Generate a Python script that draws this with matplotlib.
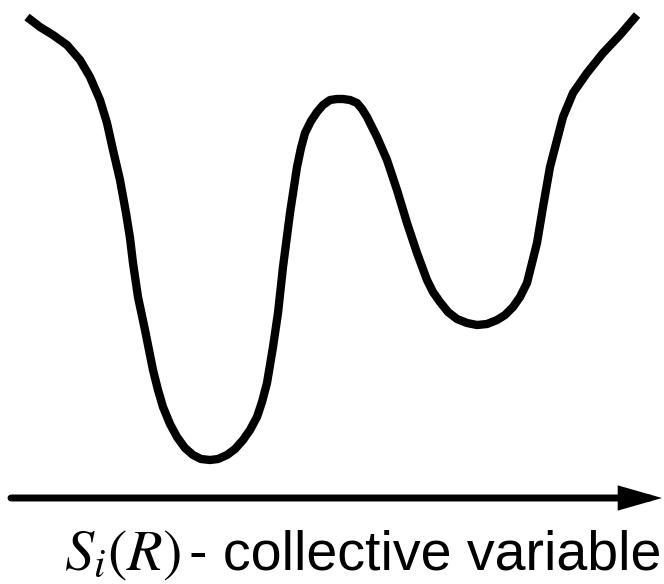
import matplotlib
matplotlib.use("Agg")
import matplotlib.pyplot as plt

plt.rcParams["mathtext.fontset"] = "stix"

# free-energy curve (pixel coords, y down)
curve_x = [27, 40, 53, 67, 80, 90, 100, 107, 113, 120, 126, 130, 133, 138, 145,
           153, 158, 163, 170, 177, 185, 193, 201, 210, 218, 227, 235, 243, 250,
           257, 262, 267, 273, 278, 283, 290, 297, 301, 305, 311, 317, 323, 330,
           337, 343, 350, 357, 362, 367, 377, 387, 397, 407, 417, 427, 433, 440,
           448, 457, 467, 477, 487, 497, 505, 513, 520, 527, 537, 543, 550, 557,
           563, 573, 587, 603, 620, 637]
curve_y = [17, 27, 35, 45, 60, 77, 100, 123, 150, 180, 213, 238, 263, 297, 330,
           370, 390, 407, 424, 437, 448, 455, 459, 460, 459, 455, 449, 440, 430,
           417, 402, 383, 347, 313, 267, 213, 167, 148, 133, 121, 112, 105, 100,
           99, 99, 100, 103, 109, 117, 137, 160, 190, 223, 253, 280, 292, 302,
           312, 319, 323, 325, 324, 320, 315, 307, 297, 283, 243, 207, 167, 140,
           117, 93, 73, 53, 35, 15]

axis_start, axis_end, axis_y = 11, 662, 498
label_math = r"$S_i(R)$"
label_text = "- collective variable"

fig = plt.figure(figsize=(6.64, 5.84), dpi=100)
ax = fig.add_axes([0, 0, 1, 1])
ax.set_xlim(0, 664)
ax.set_ylim(584, 0)
ax.axis("off")

ax.plot(curve_x, curve_y, color="black", lw=6, solid_capstyle="butt",
        solid_joinstyle="round")

ax.annotate("", xy=(axis_end, axis_y), xytext=(axis_start, axis_y),
            arrowprops=dict(arrowstyle="-|>,head_length=0.7,head_width=0.2",
                            color="black", lw=5, mutation_scale=29,
                            shrinkA=0, shrinkB=0, joinstyle="miter"))

ax.text(181, 570, label_math, fontsize=42, ha="right", va="baseline")
ax.text(189, 570, label_text, fontsize=40, family="Liberation Sans",
        ha="left", va="baseline")

fig.savefig("out.png", dpi=100)
